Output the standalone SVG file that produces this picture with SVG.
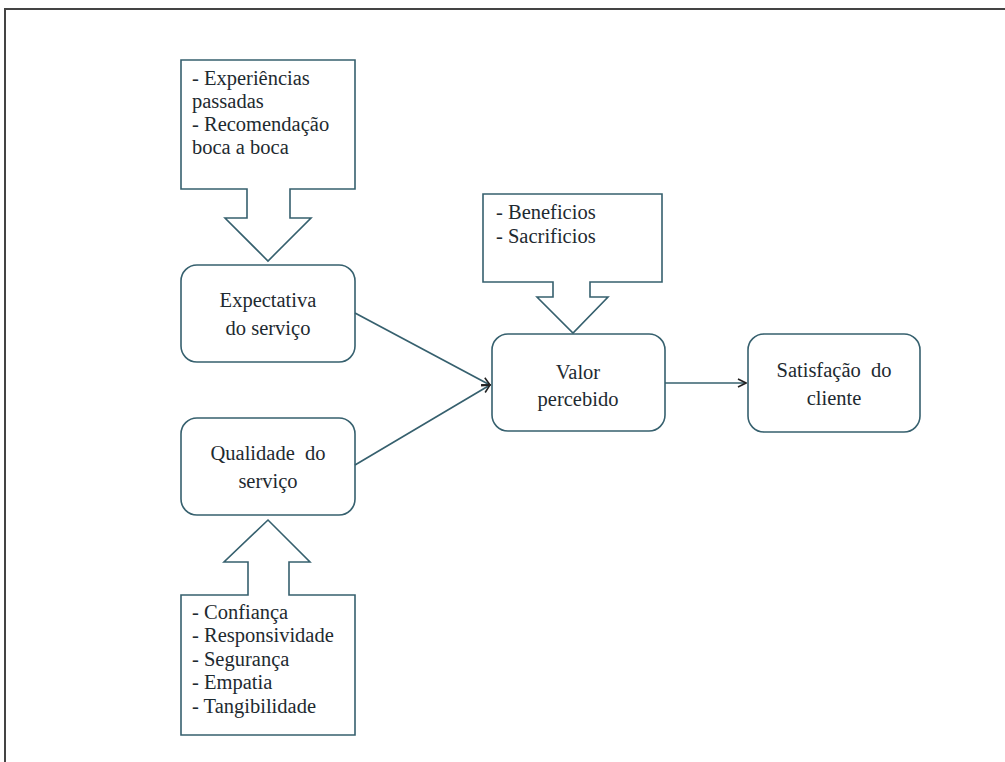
<svg xmlns="http://www.w3.org/2000/svg" width="1005" height="762" viewBox="0 0 1005 762">
<defs>
<style>
.box{fill:#fff;stroke:#36606e;stroke-width:1.6}
.t{font-family:"Liberation Serif","Times New Roman",serif;font-size:20.5px;fill:#1e2a30}
.c{text-anchor:middle}
.conn{stroke:#36606e;stroke-width:1.6;fill:none}
</style>
<marker id="ah" markerWidth="10" markerHeight="10" refX="9" refY="5" orient="auto" markerUnits="userSpaceOnUse">
<path d="M1,1 L9,5 L1,9" fill="none" stroke="#222" stroke-width="1.6"/>
</marker>
</defs>
<rect width="1005" height="762" fill="#fff"/>
<path d="M5,762 V9 H1005" fill="none" stroke="#444" stroke-width="2"/>
<g id="src-expectativa">
<path class="box" d="M181,60 H355 V189 H290 V218 H311 L268,261 L225,218 H247 V189 H181 Z"/>
<text class="t" x="192" y="85">- Experiências</text>
<text class="t" x="192" y="108">passadas</text>
<text class="t" x="192" y="131">- Recomendação</text>
<text class="t" x="192" y="154">boca a boca</text>
</g>
<g id="src-qualidade">
<path class="box" d="M181,735 H355 V595 H289 V562 H310 L268,520 L224,562 H248 V595 H181 Z"/>
<text class="t" x="192" y="619">- Confiança</text>
<text class="t" x="192" y="642">- Responsividade</text>
<text class="t" x="192" y="666">- Segurança</text>
<text class="t" x="192" y="689">- Empatia</text>
<text class="t" x="192" y="713">- Tangibilidade</text>
</g>
<g id="src-valor">
<path class="box" d="M483,194 H662 V282 H590 V297 H608 L573,333 L537,297 H553 V282 H483 Z"/>
<text class="t" x="496" y="219">- Beneficios</text>
<text class="t" x="496" y="243">- Sacrificios</text>
</g>
<g id="expectativa">
<rect class="box" x="181" y="265" width="174" height="97" rx="16"/>
<text class="t c" x="268" y="307">Expectativa</text>
<text class="t c" x="268" y="335">do serviço</text>
</g>
<g id="qualidade">
<rect class="box" x="181" y="418" width="174" height="97" rx="16"/>
<text class="t c" x="268" y="460" xml:space="preserve">Qualidade  do</text>
<text class="t c" x="268" y="488">serviço</text>
</g>
<g id="valor">
<rect class="box" x="492" y="334" width="173" height="97" rx="16"/>
<text class="t c" x="578" y="379">Valor</text>
<text class="t c" x="578" y="406">percebido</text>
</g>
<g id="satisfacao">
<rect class="box" x="748" y="334" width="172" height="98" rx="16"/>
<text class="t c" x="834" y="377" xml:space="preserve">Satisfação  do</text>
<text class="t c" x="834" y="405">cliente</text>
</g>
<g id="connectors">
<line class="conn" x1="355" y1="313" x2="490" y2="385" marker-end="url(#ah)"/>
<line class="conn" x1="355" y1="465" x2="490" y2="385" marker-end="url(#ah)"/>
<line class="conn" x1="665" y1="383" x2="746" y2="383" marker-end="url(#ah)"/>
</g>
</svg>
